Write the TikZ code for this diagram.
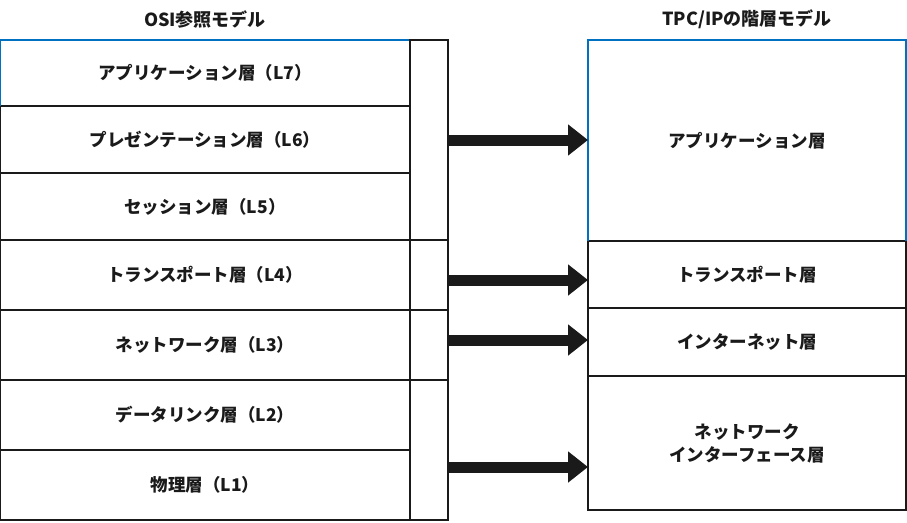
\documentclass[tikz,border=0pt]{standalone}
\usepackage{fontspec}
\newfontfamily\jpfont{Noto Sans CJK JP}
\usetikzlibrary{arrows.meta,positioning}
\definecolor{inkgray}{HTML}{1A1A1A}
\definecolor{selblue}{HTML}{0070C0}
\tikzset{
  layer/.style={draw=inkgray, line width=1.5pt, minimum width=410pt, inner sep=0pt, outer sep=0pt,
    text=inkgray, align=center, font=\jpfont\bfseries\fontsize{17.5}{23}\selectfont},
  bracket/.style={draw=inkgray, line width=1.5pt, minimum width=38pt, inner sep=0pt, outer sep=0pt},
  tcpbox/.style={layer, minimum width=318pt},
  title/.style={text=inkgray, font=\jpfont\bfseries\fontsize{18}{20}\selectfont},
  bigarrow/.style={draw=inkgray, line width=11pt, -{Triangle[width=30pt,length=20pt]}},
  selline/.style={draw=selblue, line width=1.5pt}
}
\begin{document}
\begin{tikzpicture}[x=1pt,y=-1pt]
  \useasboundingbox (0,0) rectangle (907,522);

  % titles
  \node[title] (osi) at (205,19) {OSI参照モデル};
  \node[title] (tcp) at (747,19) {TPC/IPの階層モデル};

  % OSI layers
  \node[layer, minimum height=66pt, anchor=north west] (l7) at (0,40) {アプリケーション層（L7）};
  \node[layer, minimum height=67pt, below=0pt of l7] (l6) {プレゼンテーション層（L6）};
  \node[layer, minimum height=67pt, below=0pt of l6] (l5) {セッション層（L5）};
  \node[layer, minimum height=70pt, below=0pt of l5] (l4) {トランスポート層（L4）};
  \node[layer, minimum height=70pt, below=0pt of l4] (l3) {ネットワーク層（L3）};
  \node[layer, minimum height=70pt, below=0pt of l3] (l2) {データリンク層（L2）};
  \node[layer, minimum height=70pt, below=0pt of l2] (l1) {物理層（L1）};
  \draw[selline] (l7.south west) -- (l7.north west) -- (l7.north east);

  % groups
  \node[bracket, minimum height=200pt, anchor=north west] (b1) at (l7.north east) {};
  \node[bracket, minimum height=70pt, below=0pt of b1] (b2) {};
  \node[bracket, minimum height=70pt, below=0pt of b2] (b3) {};
  \node[bracket, minimum height=140pt, below=0pt of b3] (b4) {};

  % TCP/IP layers
  \node[tcpbox, minimum height=201pt, anchor=north west] (ta) at (588,40) {アプリケーション層};
  \node[tcpbox, minimum height=67pt, below=0pt of ta] (tt) {トランスポート層};
  \node[tcpbox, minimum height=68pt, below=0pt of tt] (ti) {インターネット層};
  \node[tcpbox, minimum height=134pt, below=0pt of ti] (tn) {ネットワーク\\インターフェース層};
  \draw[selline] (ta.south west) -- (ta.north west) -- (ta.north east) -- (ta.south east);

  % mapping
  \draw[bigarrow] (b1.east) -- (b1.east -| ta.west);
  \draw[bigarrow] ([yshift=-5pt]b2.east) -- ([yshift=-5pt]b2.east -| tt.west);
  \draw[bigarrow] ([yshift=5pt]b3.east) -- ([yshift=5pt]b3.east -| ti.west);
  \draw[bigarrow] ([yshift=-17pt]b4.east) -- ([yshift=-17pt]b4.east -| tn.west);
\end{tikzpicture}
\end{document}
